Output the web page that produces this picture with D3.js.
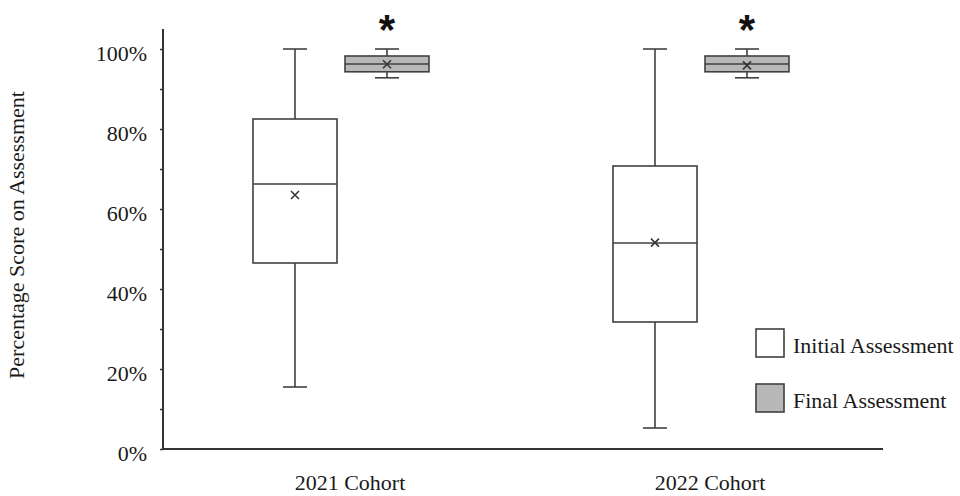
<!DOCTYPE html>
<html><head><meta charset="utf-8">
<script src="https://cdn.jsdelivr.net/npm/d3@7"></script>
<style>body{margin:0;background:#fff}</style>
</head><body>
<svg id="c" width="960" height="496"></svg>
<script>
const categories = ["2021 Cohort", "2022 Cohort"];
const series = ["Initial Assessment", "Final Assessment"];
// [min, q1, median, q3, max, mean] per category, per series
const initialStats = [
  [15.5, 46.5, 66.25, 82.5, 100, 63.5],
  [5.25, 31.75, 51.5, 70.75, 100, 51.6]
];
const finalStats = [
  [92.8, 94.3, 96.25, 98.25, 100, 96.2],
  [92.8, 94.3, 96.25, 98.25, 100, 95.9]
];
const significant = [true, true];
const yTicks = [0, 10, 20, 30, 40, 50, 60, 70, 80, 90, 100];
const yLabelTicks = [0, 20, 40, 60, 80, 100];
const fills = ["#ffffff", "#b8b8b8"];

const svg = d3.select("#c");
const font = "'Liberation Serif', 'Times New Roman', serif";
const stroke = "#404040";

const y = d3.scaleLinear().domain([0, 105]).range([449, 29]);
const x = d3.scaleBand().domain(categories).range([161, 881]).padding(0);
const xi = d3.scaleBand().domain(series).range([-88, 88]).paddingInner(0.087).paddingOuter(0);

// Y axis
const yAxis = d3.axisLeft(y).tickValues(yTicks).tickSize(3).tickPadding(13)
  .tickFormat(d => yLabelTicks.includes(d) ? d + "%" : "");
const gy = svg.append("g").attr("transform", "translate(163,0)").call(yAxis);
gy.select(".domain").attr("stroke", "#333").attr("stroke-width", 2).attr("d", `M0,${y(105)}V${y(0)}`);
gy.selectAll(".tick line").attr("stroke", "#333").attr("stroke-width", 1.5);
gy.selectAll(".tick text").attr("font-family", font).attr("font-size", 22).attr("fill", "#1a1a1a").attr("dy", "0.5em");

// X axis
svg.append("line").attr("x1", 162).attr("x2", 883).attr("y1", y(0)).attr("y2", y(0))
  .attr("stroke", "#333").attr("stroke-width", 2);
svg.append("g").selectAll("text").data(categories).join("text")
  .attr("x", d => x(d) + x.bandwidth() / 2 + 9).attr("y", 490)
  .attr("text-anchor", "middle").attr("font-family", font).attr("font-size", 22).attr("fill", "#1a1a1a")
  .text(d => d);

// Y label
svg.append("text").attr("transform", "translate(24,235) rotate(-90)")
  .attr("text-anchor", "middle").attr("font-family", font).attr("font-size", 22).attr("fill", "#1a1a1a")
  .text("Percentage Score on Assessment");

// Boxes
const allStats = [initialStats, finalStats];
const capW = 24;
categories.forEach((cat, ci) => {
  series.forEach((s, si) => {
    const [mn, q1, med, q3, mx, mean] = allStats[si][ci];
    const left = x(cat) + x.bandwidth() / 2 + xi(s);
    const bw = xi.bandwidth();
    const cx = left + bw / 2;
    const g = svg.append("g").attr("stroke", stroke).attr("stroke-width", 1.6).attr("fill", "none");
    g.append("line").attr("x1", cx).attr("x2", cx).attr("y1", y(mx)).attr("y2", y(q3));
    g.append("line").attr("x1", cx).attr("x2", cx).attr("y1", y(q1)).attr("y2", y(mn));
    g.append("line").attr("x1", cx - capW / 2).attr("x2", cx + capW / 2).attr("y1", y(mx)).attr("y2", y(mx));
    g.append("line").attr("x1", cx - capW / 2).attr("x2", cx + capW / 2).attr("y1", y(mn)).attr("y2", y(mn));
    g.append("rect").attr("x", left).attr("width", bw).attr("y", y(q3)).attr("height", y(q1) - y(q3))
      .attr("fill", fills[si]);
    g.append("line").attr("x1", left).attr("x2", left + bw).attr("y1", y(med)).attr("y2", y(med)).attr("stroke-width", 1.4);
    const my = y(mean), r = 4;
    g.append("path").attr("d", `M${cx - r},${my - r}L${cx + r},${my + r}M${cx - r},${my + r}L${cx + r},${my - r}`)
      .attr("stroke", "#333").attr("stroke-width", 1.5);
  });
  if (significant[ci]) {
    const s = series[1];
    const cx = x(cat) + x.bandwidth() / 2 + xi(s) + xi.bandwidth() / 2;
    svg.append("text").attr("x", cx).attr("y", 44).attr("text-anchor", "middle")
      .attr("font-family", "'Liberation Sans', Arial, sans-serif").attr("font-weight", "bold")
      .attr("font-size", 42).attr("fill", "#111").text("*");
  }
});

// Legend
const lg = svg.append("g");
series.forEach((s, i) => {
  const yy = 329 + i * 55;
  lg.append("rect").attr("x", 756).attr("y", yy).attr("width", 28).attr("height", 28)
    .attr("fill", fills[i]).attr("stroke", stroke).attr("stroke-width", 1.6);
  lg.append("text").attr("x", 793).attr("y", yy + 24).attr("font-family", font).attr("font-size", 22)
    .attr("fill", "#1a1a1a").text(s);
});
</script>
</body></html>
